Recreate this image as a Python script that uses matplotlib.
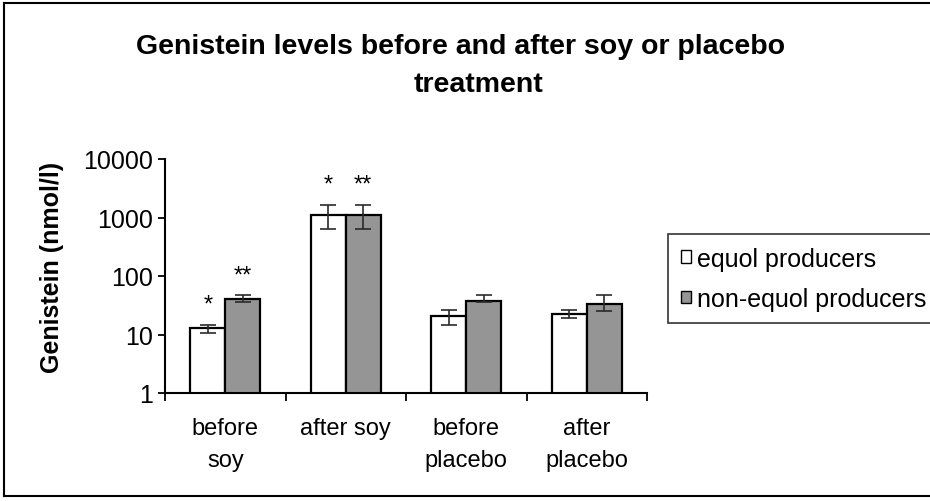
import numpy as np
import matplotlib; matplotlib.use("Agg")
import matplotlib.pyplot as plt
from matplotlib.lines import Line2D
from matplotlib.patches import Patch

plt.rcParams["font.family"] = ["Liberation Sans", "DejaVu Sans"]

CATS = ["before\nsoy", "after soy", "before\nplacebo", "after\nplacebo"]
SERIES = ["equol producers", "non-equol producers"]
equol = [12.8, 1100, 20.7, 22.4]
nonequol = [40.3, 1100, 37.8, 32.7]
# error bar lower / upper ends
equol_lo = [10.8, 640, 14.4, 19.1]
equol_hi = [14.5, 1650, 25.9, 25.9]
nonequol_lo = [35.4, 640, 35.4, 25.6]
nonequol_hi = [47.0, 1650, 47.0, 47.0]
# significance marks
equol_sig = ["*", "*", "", ""]
nonequol_sig = ["**", "**", "", ""]

fig = plt.figure(figsize=(9.3, 5.02), dpi=100)
ax = fig.add_axes([165/930, 1-394/502, 482/930, 234/502])

x = np.arange(len(CATS))
w = 0.29
for off, vals, lo, hi, sig, col, lab in [
        (-w/2, equol, equol_lo, equol_hi, equol_sig, "white", SERIES[0]),
        (w/2, nonequol, nonequol_lo, nonequol_hi, nonequol_sig, "#959595", SERIES[1])]:
    vals = np.array(vals); lo = np.array(lo); hi = np.array(hi)
    ax.bar(x+off, vals, w, bottom=0, color=col, edgecolor="black", linewidth=1.6, label=lab, zorder=2)
    ax.errorbar(x+off, vals, yerr=[vals-lo, hi-vals], fmt="none", ecolor="#2a2a2a",
                elinewidth=1.2, capsize=5.5, capthick=1.2, zorder=3)
    for xi, h, s in zip(x+off, hi, sig):
        if s:
            ax.text(xi, h*2.2, s, ha="center", va="center", fontsize=17)

ax.set_yscale("log")
ax.set_ylim(1, 10000)
ax.set_xlim(-0.5, 3.5)
ax.set_yticks([1, 10, 100, 1000, 10000])
ax.set_yticklabels(["1", "10", "100", "1000", "10000"], fontsize=18)
ax.yaxis.set_minor_locator(matplotlib.ticker.NullLocator())
ax.set_xticks(x)
ax.set_xticklabels(CATS, fontsize=17, linespacing=1.6, va="top")
ax.set_xticks(np.arange(-0.5, 4.0, 1.0), minor=True)
ax.tick_params(axis="x", which="major", length=0, pad=17)
ax.tick_params(axis="x", which="minor", length=5.5, width=1.3, direction="out")
ax.tick_params(axis="y", length=5, width=1.3, direction="out", pad=4)
for sp in ["top", "right"]:
    ax.spines[sp].set_visible(False)
for sp in ["left", "bottom"]:
    ax.spines[sp].set_linewidth(1.5)
ax.set_ylabel("Genistein (nmol/l)", fontsize=18, fontweight="bold", va="center")
ax.yaxis.set_label_coords((52-165)/482, (394-267)/234)

fig.text(461/930, 1-54/502, "Genistein levels before and after soy or placebo", ha="center", va="baseline",
         fontsize=20.5, fontweight="bold")
fig.text(478/930, 1-91.7/502, "treatment", ha="center", va="baseline", fontsize=20.5, fontweight="bold")

handles = [Patch(facecolor="white", edgecolor="black", linewidth=1.0),
           Patch(facecolor="#959595", edgecolor="black", linewidth=1.0)]
leg = fig.legend(handles, SERIES, loc="upper left", bbox_to_anchor=(668/930, 1-235/502),
                 frameon=True, fancybox=False, edgecolor="black", fontsize=18,
                 handlelength=0.4, handleheight=0.4, handletextpad=0.25, borderpad=0.5,
                 labelspacing=0.65, borderaxespad=0)
leg.get_frame().set_linewidth(1.2)

# outer chart-area border
fig.add_artist(Line2D([4/930, 4/930], [1-4/502, 1-497/502], color="black", lw=1.5))
fig.add_artist(Line2D([4/930, 1], [1-4/502, 1-4/502], color="black", lw=1.5))
fig.add_artist(Line2D([4/930, 1], [1-497/502, 1-497/502], color="black", lw=1.5))

fig.savefig("out.png", dpi=100)
